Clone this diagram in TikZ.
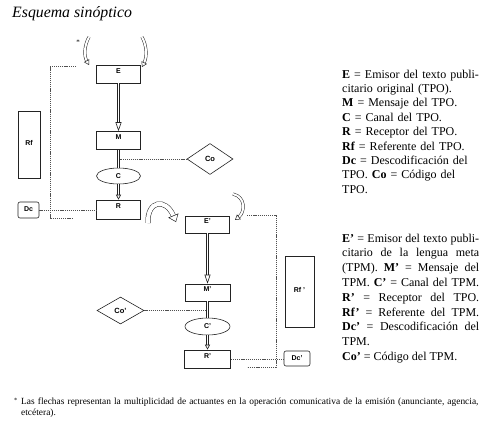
\documentclass[tikz,border=0pt]{standalone}
\usepackage{fontspec}
\setmainfont{Liberation Serif}
\setsansfont{Liberation Sans}
\usetikzlibrary{arrows.meta,positioning,shapes.geometric}
\definecolor{inkgray}{RGB}{35,35,35}
\definecolor{dotgray}{RGB}{80,80,80}
\newcommand{\boxfont}{\sffamily\bfseries\fontsize{7}{8}\selectfont}

\begin{document}
\begin{tikzpicture}[x=1pt, y=-1pt,
    box/.style={draw=inkgray, line width=0.6pt, minimum width=44pt, minimum height=18pt,
      inner sep=0pt, text height=5.5pt, text depth=7pt, font=\boxfont},
    tallbox/.style={box, text height=5pt, text depth=3pt},
    tagbox/.style={box, rounded corners=2pt, text height=5pt, text depth=1.5pt},
    canal/.style={ellipse, draw=inkgray, line width=0.6pt, minimum width=44pt,
      minimum height=16pt, inner sep=0pt, font=\boxfont},
    codigo/.style={diamond, draw=inkgray, line width=0.6pt, minimum width=46pt,
      minimum height=31pt, inner sep=0pt, font=\sffamily\bfseries\fontsize{7.5}{8}\selectfont},
    flow/.style={draw=inkgray, line width=0.6pt, double=white, double distance=1.3pt},
    flowhead/.style={flow, -{Triangle[open, length=9pt, width=6pt]}},
    shorthead/.style={flow, -{Triangle[open, length=5pt, width=5pt]}},
    link/.style={draw=dotgray, line width=0.5pt, dash pattern=on 1.2pt off 0.9pt},
    swirl/.style={draw=inkgray, line width=0.5pt, double=white, double distance=2pt,
      -{Triangle[open, length=5pt, width=6pt]}},
    bigswirl/.style={swirl, double distance=4pt, -{Triangle[open, length=7pt, width=11pt]}},
    legend/.style={anchor=base west, inner sep=0pt, text width=#1}
]
    \useasboundingbox (0,0) rectangle (500,423);
    \fill[white] (0,0) rectangle (500,423);

    % Title
    \node[anchor=base west, inner sep=0pt, font=\itshape\fontsize{15.8}{18}\selectfont] (title) at (12,17) {Esquema sinóptico};

    % Original text (TPO)
    \node[box] (E) at (118.5,74) {E};
    \node[box] (M) at (118.5,140.5) {M};
    \node[canal] (C) at (118.5,176) {C};
    \node[box, minimum height=19pt] (R) at (118.5,209.5) {R};
    \node[tallbox, minimum width=22pt, minimum height=67pt] (Rf) at (29,144.5) {Rf};
    \node[tagbox, minimum width=21pt, minimum height=16pt] (Dc) at (28.5,210) {Dc};
    \node[codigo] (Co) at (210,159) {Co};

    % Target text (TPM)
    \node[box, minimum height=17pt] (Ep) at (207.5,224.5) {E'};
    \node[box, minimum width=45pt, minimum height=17pt] (Mp) at (207.5,292.5) {M'};
    \node[canal, minimum width=45pt, minimum height=17pt] (Cp) at (207.5,326.5) {C'};
    \node[box, minimum width=46pt] (Rp) at (207.5,359) {R'};
    \node[tallbox, minimum width=29pt, minimum height=71pt] (Rfp) at (299.5,291.5) {Rf '};
    \node[tagbox, minimum width=26pt, minimum height=15pt] (Dcp) at (297,358.5) {Dc'};
    \node[codigo, minimum width=47pt, minimum height=27pt] (Cop) at (120.5,310.5) {Co'};

    % Dotted links
    \draw[link] (Co) -- (Co -| M);
    \draw[link] (Dc) -- (Dc -| R.west);
    \coordinate (lt) at (76,66);
    \coordinate (lb) at (73,218);
    \draw[link] (lt) -- ++(-26,0) |- (lb);
    \draw[link] (Cop) -- (Cop -| Mp);
    \draw[link] (Rp) -- (Rp -| Dcp.west);
    \coordinate (rt) at (247,215);
    \coordinate (rb) at (247,367);
    \draw[link] (rt) -- ++(29,0) |- (rb);

    % Flow E -> M -> C -> R
    \draw[flowhead] (E) -- (M);
    \draw[flow] (M) -- (C);
    \draw[shorthead] (C) -- (R);
    \draw[flowhead] (Ep) -- (Mp);
    \draw[flow] (Mp) -- (Cp);
    \draw[shorthead] (Cp) -- (Rp);

    % Curved arrows
    \node[font=\fontsize{7}{8}\selectfont, inner sep=0pt] (star) at (78,42) {*};
    \coordinate (s1a) at (89,37);
    \coordinate (s1b) at (89,65);
    \draw[swirl] (s1a) .. controls (84,46) and (84,56) .. (s1b);
    \coordinate (s2a) at (142,37);
    \coordinate (s2b) at (142,67);
    \draw[swirl] (s2a) .. controls (147,46) and (147,57) .. (s2b);
    \coordinate (ra) at (148,223);
    \coordinate (rz) at (176,222);
    \draw[bigswirl] (ra) .. controls (147,200) and (166,198) .. (rz);
    \coordinate (ea) at (233,194);
    \coordinate (ez) at (235,220);
    \draw[swirl] (ea) .. controls (246,197) and (245,212) .. (ez);

    % Keys
    \node[legend=140pt, align=left, font=\fontsize{12}{14.4}\selectfont] (keyTPO) at (342,78)
      {\textbf{E} = Emisor del texto publi-\\citario original (TPO).\\\textbf{M} = Mensaje del TPO.\\\textbf{C} = Canal del TPO.\\\textbf{R} = Receptor del TPO.\\\textbf{Rf} = Referente del TPO.\\\textbf{Dc} = Descodificación del\\TPO. \textbf{Co} = Código del\\TPO.};
    \node[legend=137pt, align=justify, font=\fontsize{12}{14.8}\selectfont] (keyTPM) at (342,242)
      {\textbf{E'} = Emisor del texto publi-\linebreak citario de la lengua meta\linebreak (TPM). \textbf{M'} = Mensaje del\linebreak TPM. \textbf{C'} = Canal del TPM.\linebreak \textbf{R'} = Receptor del TPO.\linebreak \textbf{Rf'} = Referente del TPM.\linebreak \textbf{Dc'} = Descodificación del\linebreak TPM.\\\textbf{Co'} = Código del TPM.};

    % Note
    \node[anchor=base west, inner sep=0pt, font=\fontsize{6.5}{7}\selectfont] (fnstar) at (14,402) {*};
    \node[anchor=base west, inner sep=0pt, text width=470pt, align=left, font=\fontsize{9.4}{11.5}\selectfont] (note) at (21,404)
      {Las flechas representan la multiplicidad de actuantes en la operación comunicativa de la emisión (anunciante, agencia,\\etcétera).};
\end{tikzpicture}
\end{document}
